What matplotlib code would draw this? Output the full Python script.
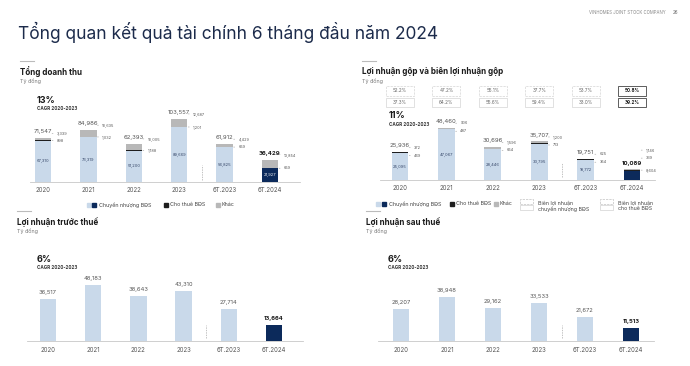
import matplotlib
matplotlib.use('Agg')
import matplotlib.pyplot as plt
from matplotlib.patches import Rectangle
from matplotlib.lines import Line2D
from matplotlib.transforms import blended_transform_factory

plt.rcParams['font.family'] = ['Inter', 'DejaVu Sans']

W, H = 690, 366

periods = ['2020', '2021', '2022', '2023', '6T.2023', '6T.2024']

# Tong doanh thu (ty dong)
rev_transfer = [67310, 73319, 51200, 89669, 56825, 21927]
rev_lease = [898, 1032, 1188, 1201, 659, 659]
rev_other = [3339, 10635, 10005, 12687, 4429, 13854]
rev_total = [71547, 84986, 62393, 103557, 61912, 36429]

# Loi nhuan gop
gp_transfer = [25095, 47067, 28446, 33795, 18772, 8604]
gp_lease = [469, 487, 654, 713, 354, 339]
gp_other = [372, 906, 1596, 1200, 625, 1146]
gp_total = [25936, 48460, 30696, 35707, 19751, 10089]
margin_row1 = ['52.2%', '47.2%', '55.1%', '37.7%', '53.7%', '50.8%']
margin_row2 = ['37.3%', '64.2%', '55.6%', '59.4%', '33.0%', '39.2%']

# Loi nhuan truoc / sau thue
pbt = [36517, 48183, 38643, 43310, 27714, 13664]
pat = [28207, 38948, 29162, 33533, 21672, 11513]

cagr = ['13%', '11%', '6%', '6%']

LIGHT = '#c9d9ea'
NAVY = '#0c2a5b'
LEASE = '#1e1e1e'
OTHER = '#b8b8b8'
GREY = '#555555'
DARK = '#1a1a1a'
TITLE = '#1c2b4b'


def fx(px):
    return px / W


def fy(py):
    return 1 - py / H


def make_ax(left, right, base, top, c0, step, upp):
    ax = fig.add_axes([fx(left), fy(base), (right - left) / W, (base - top) / H])
    ax.set_xlim((left - c0) / step, (right - c0) / step)
    ax.set_ylim(0, (base - top) * upp)
    for s in ['top', 'right', 'left']:
        ax.spines[s].set_visible(False)
    ax.spines['bottom'].set_color('#c8c8c8')
    ax.spines['bottom'].set_linewidth(0.6)
    ax.set_yticks([])
    ax.set_xticks(range(len(periods)))
    ax.set_xticklabels(periods)
    ax.tick_params(axis='x', length=0, pad=3.6, labelsize=4.4, labelcolor=GREY)
    ax.patch.set_alpha(0)
    return ax


def side_label(ax, x, y, txt):
    ax.annotate(txt, xy=(x, y), xytext=(4, 0), textcoords='offset points',
                ha='left', va='center', fontsize=2.8, color=GREY,
                arrowprops=dict(arrowstyle='-', color='#999999', lw=0.4,
                                shrinkA=0.6, shrinkB=0.6))


def separator(ax, x, y0, y1):
    ax.plot([x, x], [y0, y1], ls=(0, (2, 1.5)), color='#aaaaaa', lw=0.5, clip_on=False)


def panel_head(x, y, title, cagr_txt, cx, cy):
    fig.add_artist(Line2D([fx(x), fx(x + 14)], [fy(y - 11), fy(y - 11)], color='#bbbbbb', lw=0.8))
    fig.text(fx(x), fy(y), title, fontsize=5.8, weight='bold', color=DARK, va='center')
    fig.text(fx(x), fy(y + 9.5), 'Tỷ đồng', fontsize=3.9, color='#777777', va='center')
    fig.text(fx(cx), fy(cy), cagr_txt, fontsize=6.5, weight='bold', color=DARK, va='center')
    fig.text(fx(cx), fy(cy + 8.5), 'CAGR 2020-2023', fontsize=3.3, weight='bold', color='#333333', va='center')


def legend_square(x, y, col, size=3.6):
    fig.add_artist(Rectangle((fx(x), fy(y + size / 2)), size / W, size / H, color=col,
                             transform=fig.transFigure))


fig = plt.figure(figsize=(W / 100, H / 100), dpi=100)
fig.patch.set_facecolor('white')

fig.text(fx(18), fy(32), 'Tổng quan kết quả tài chính 6 tháng đầu năm 2024',
         fontsize=12.5, color=TITLE, va='center')
fig.text(fx(666), fy(13), 'VINHOMES JOINT STOCK COMPANY', fontsize=3.1, color='#888888',
         ha='right', va='center')
fig.text(fx(673), fy(13), '26', fontsize=3.3, color='#666666', va='center')

w = 0.36
n = len(periods)

# ---- Tong doanh thu ----
upp1 = 1650
ax1 = make_ax(30, 300, 181.7, 95, 43, 45.4, upp1)
panel_head(20, 72, 'Tổng doanh thu', cagr[0], 37, 100.5)
for i in range(n):
    last = i == n - 1
    ax1.bar(i, rev_transfer[i], w, color=NAVY if last else LIGHT)
    ax1.bar(i, rev_lease[i], w, bottom=rev_transfer[i], color=LEASE)
    ax1.bar(i, rev_other[i], w, bottom=rev_transfer[i] + rev_lease[i], color=OTHER)
    top = rev_transfer[i] + rev_lease[i] + rev_other[i]
    ax1.annotate(f'{rev_total[i]:,}', (i, top), xytext=(0, 2.8), textcoords='offset points',
                 ha='center', va='bottom', fontsize=4.3,
                 color=DARK if last else GREY, weight='bold' if last else 'normal')
    ax1.text(i, rev_transfer[i] / 2, f'{rev_transfer[i]:,}', ha='center', va='center',
             fontsize=2.9, color='white' if last else '#334466')
    side_label(ax1, i + w / 2, top + 5 * upp1, f'{rev_other[i]:,}')
    side_label(ax1, i + w / 2, rev_transfer[i] + rev_lease[i] / 2, f'{rev_lease[i]:,}')
separator(ax1, 3.5, 2500, 27000)

legend_square(87, 205, LIGHT)
legend_square(92, 205, NAVY)
fig.text(fx(99), fy(205), 'Chuyển nhượng BĐS', fontsize=3.9, color='#444444', va='center')
legend_square(164, 205, LEASE)
fig.text(fx(170), fy(205), 'Cho thuê BĐS', fontsize=3.9, color='#444444', va='center')
legend_square(216, 205, OTHER)
fig.text(fx(222), fy(205), 'Khác', fontsize=3.9, color='#444444', va='center')

# ---- Loi nhuan gop ----
upp2 = 927
ax2 = make_ax(380, 655, 180, 112, 400, 46.4, upp2)
panel_head(362, 72, 'Lợi nhuận gộp và biên lợi nhuận gộp', cagr[1], 389, 116)
for i in range(n):
    last = i == n - 1
    ax2.bar(i, gp_transfer[i], w, color=NAVY if last else LIGHT)
    ax2.bar(i, gp_lease[i], w, bottom=gp_transfer[i], color=LEASE)
    ax2.bar(i, gp_other[i], w, bottom=gp_transfer[i] + gp_lease[i], color=OTHER)
    top = gp_transfer[i] + gp_lease[i] + gp_other[i]
    ax2.annotate(f'{gp_total[i]:,}', (i, top), xytext=(0, 2.6), textcoords='offset points',
                 ha='center', va='bottom', fontsize=4.3,
                 color=DARK if last else GREY, weight='bold' if last else 'normal')
    if last:
        side_label(ax2, i + w / 2, top + 19 * upp2, f'{gp_other[i]:,}')
        side_label(ax2, i + w / 2, top + 11 * upp2, f'{gp_lease[i]:,}')
        side_label(ax2, i + w / 2, top - 1 * upp2, f'{gp_transfer[i]:,}')
    else:
        ax2.text(i, gp_transfer[i] / 2, f'{gp_transfer[i]:,}', ha='center', va='center',
                 fontsize=2.9, color='#334466')
        side_label(ax2, i + w / 2, top + 4.5 * upp2, f'{gp_other[i]:,}')
        side_label(ax2, i + w / 2, top - 3.5 * upp2, f'{gp_lease[i]:,}')
separator(ax2, 3.5, 2500, 16000)

tb = blended_transform_factory(ax2.transData, fig.transFigure)
bw = 28 / 46.4
for i in range(n):
    last = i == n - 1
    for row, yc, ls in [(margin_row1, 91, '--'), (margin_row2, 102.5, '-')]:
        fig.add_artist(Rectangle((i - bw / 2, fy(yc + 4.5)), bw, 9 / H, transform=tb,
                                 fill=False, ec='#444444' if last else '#d0d0d0',
                                 lw=0.6 if last else 0.45, ls='-' if last else ls))
        fig.text(i, fy(yc), row[i], transform=tb, ha='center', va='center', fontsize=3.3,
                 color=DARK if last else '#666666', weight='bold' if last else 'normal')

legend_square(376, 204, LIGHT)
legend_square(382, 204, NAVY)
fig.text(fx(389), fy(204), 'Chuyển nhượng BĐS', fontsize=3.9, color='#444444', va='center')
legend_square(450, 204, LEASE)
fig.text(fx(456), fy(204), 'Cho thuê BĐS', fontsize=3.9, color='#444444', va='center')
legend_square(494, 204, OTHER)
fig.text(fx(500), fy(204), 'Khác', fontsize=3.9, color='#444444', va='center')
for ix, label in [(520, 'Biên lợi nhuận\nchuyển nhượng BĐS'), (600, 'Biên lợi nhuận\ncho thuê BĐS')]:
    fig.add_artist(Rectangle((fx(ix), fy(204)), 13 / W, 5 / H, fill=False, ec='#bbbbbb',
                             lw=0.45, ls='--', transform=fig.transFigure))
    fig.add_artist(Rectangle((fx(ix), fy(210)), 13 / W, 5 / H, fill=False, ec='#cccccc',
                             lw=0.45, transform=fig.transFigure))
    fig.text(fx(ix + 18), fy(206), label, fontsize=3.8, color='#444444', va='center',
             linespacing=1.05)

# ---- Loi nhuan truoc thue / sau thue ----
for vals, geom, head in [
        (pbt, (27, 303, 341, 250, 48, 45.2, 860), (17, 222, 'Lợi nhuận trước thuế', cagr[2], 37, 259)),
        (pat, (378, 654, 341, 250, 401, 46.0, 885), (366, 222, 'Lợi nhuận sau thuế', cagr[3], 388, 259))]:
    ax = make_ax(*geom)
    ax.tick_params(axis='x', pad=4.3)
    panel_head(*head)
    cols = [LIGHT] * (n - 1) + [NAVY]
    bars = ax.bar(range(n), vals, w, color=cols)
    for i, b in enumerate(bars):
        last = i == n - 1
        ax.annotate(f'{vals[i]:,}', (i, vals[i]), xytext=(0, 2.8), textcoords='offset points',
                    ha='center', va='bottom', fontsize=4.2,
                    color=DARK if last else GREY, weight='bold' if last else 'normal')
    separator(ax, 3.5, 3 * geom[6], 16 * geom[6])

fig.savefig('out.png', dpi=100, facecolor='white')
